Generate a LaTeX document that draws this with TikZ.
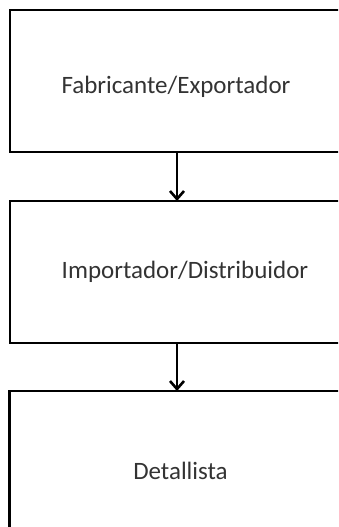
\documentclass[tikz,border=0pt]{standalone}
\usepackage{fontspec}
\setmainfont{Carlito}
\usetikzlibrary{arrows.meta}
\begin{document}
\begin{tikzpicture}[x=1pt,y=-1pt,
  stagebox/.style={draw=black, line width=2.6pt, minimum width=336pt,
    minimum height=142pt, inner sep=0pt, outer sep=0pt},
  label/.style={font=\fontsize{25}{30}\selectfont, text=black!80, inner sep=0pt},
  flow/.style={line width=2.6pt, -{Straight Barb[length=8pt,width=14pt,line width=2.6pt]}}]
  \useasboundingbox (0,0) rectangle (338,527);
  \clip (0,0) rectangle (338,527);
  % three stages of the supply chain
  \node[stagebox] (fab) at (178,81) {};
  \node[stagebox] (imp) at (178,272) {};
  \node[stagebox] (det) at (177.5,462) {};
  \node[label] at (176,87) {Fabricante/Exportador};
  \node[label] at (185,272) {Importador/Distribuidor};
  \node[label] at (180.5,471) {Detallista};
  % links between stages
  \draw[flow] (fab.south -| 177,0) -- (imp.north -| 177,0);
  \draw[flow] (imp.south -| 177,0) -- (det.north -| 177,0);
\end{tikzpicture}
\end{document}
